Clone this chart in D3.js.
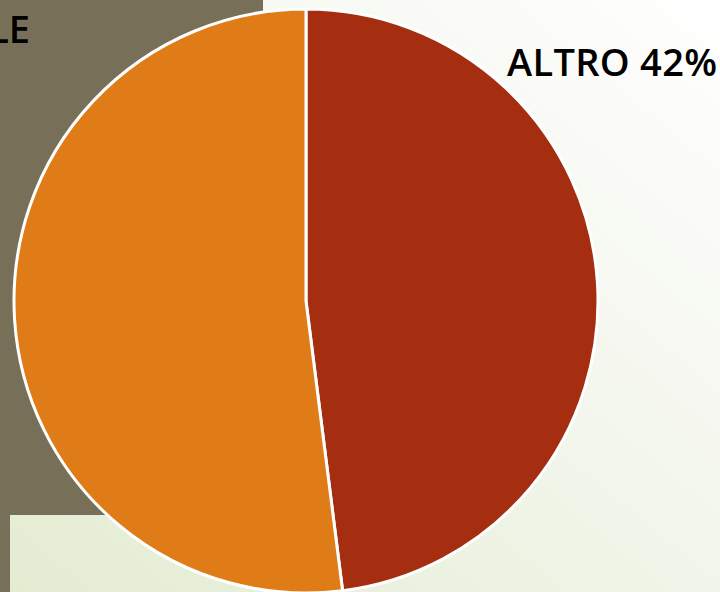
<!DOCTYPE html>
<html>
<head>
<meta charset="utf-8">
<script src="https://cdn.jsdelivr.net/npm/d3@7"></script>
<style>
  body { margin: 0; overflow: hidden; }
  text { font-family: "Open Sans", sans-serif; font-weight: 600; }
</style>
</head>
<body>
<script>
var w = 720;
var h = 592;

// slice data (clockwise from 12 o'clock)
var categories = ["ALTRO", "ALE"];
var values = [48, 52];
var labels = ["ALTRO 42%", "LE"];
var colors = ["#a52e10", "#df7c18"];

var svg = d3.select("body").append("svg").attr("width", w).attr("height", h);

var defs = svg.append("defs");
var grad = defs.append("linearGradient")
  .attr("id", "bg")
  .attr("x1", "0%").attr("y1", "100%")
  .attr("x2", "100%").attr("y2", "0%");
grad.append("stop").attr("offset", "0%").attr("stop-color", "#e3ecd1");
grad.append("stop").attr("offset", "55%").attr("stop-color", "#f3f6ec");
grad.append("stop").attr("offset", "100%").attr("stop-color", "#ffffff");

// background panels
svg.append("rect").attr("width", w).attr("height", h).attr("fill", "url(#bg)");
svg.append("rect").attr("x", 0).attr("y", 0).attr("width", 263).attr("height", 515)
  .attr("fill", "#776f57");
svg.append("rect").attr("x", 0).attr("y", 515).attr("width", 10).attr("height", h - 515)
  .attr("fill", "#776f57");

var cx = 306, cy = 301, r = 292;

var pie = d3.pie().sort(null).value(function (d) { return d; });
var arc = d3.arc().innerRadius(0).outerRadius(r);

var g = svg.append("g").attr("transform", "translate(" + cx + "," + cy + ")");

g.selectAll("path")
  .data(pie(values))
  .enter()
  .append("path")
  .attr("d", arc)
  .attr("fill", function (d, i) { return colors[i]; })
  .attr("stroke", "#ffffff")
  .attr("stroke-width", 3)
  .attr("stroke-linejoin", "round");

// labels
svg.append("text")
  .attr("x", 507).attr("y", 76)
  .attr("font-size", 38)
  .attr("textLength", 210)
  .attr("fill", "#000")
  .text(labels[0]);

svg.append("text")
  .attr("x", 30).attr("y", 43)
  .attr("text-anchor", "end")
  .attr("font-size", 38)
  .attr("fill", "#000")
  .text(labels[1]);
</script>
</body>
</html>
